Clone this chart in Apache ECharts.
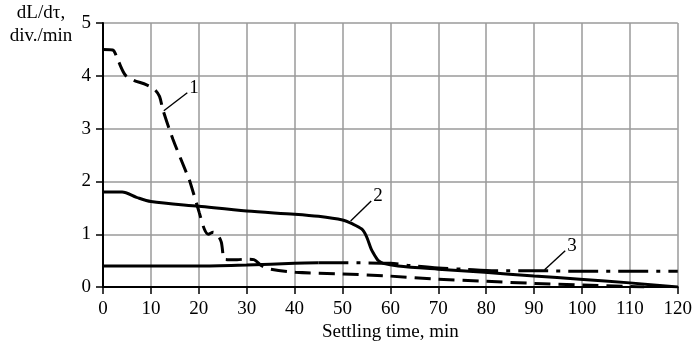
<!DOCTYPE html>
<html><head><meta charset="utf-8">
<script src="https://cdn.jsdelivr.net/npm/echarts@6/dist/echarts.min.js"></script>
<style>html,body{margin:0;padding:0;background:#fff}#c{width:695px;height:347px}</style>
</head><body><div id="c"></div>
<script>
// x tick labels
var xTicks = [0,10,20,30,40,50,60,70,80,90,100,110,120];
var yTicks = [0,1,2,3,4,5];
// Curve 1 (dashed)
var curve1X = [0,2,3.1,4.6,6.3,9.1,10.8,11.8,12.5,14.6,17.4,18,20.1,21.2,22,23,24,24.7,25.3,26,28,30,31.5,33.2,35,40.2,50,59.6,70,80,90,100,110,113];
var curve1Y = [4.5,4.49,4.3,4.02,3.92,3.83,3.74,3.61,3.36,2.8,2.17,2.04,1.41,1.09,1.0,1.04,0.98,0.85,0.53,0.52,0.52,0.53,0.52,0.4,0.34,0.28,0.25,0.21,0.15,0.11,0.07,0.04,0.01,0];
// Curve 2 (solid)
var curve2X = [0,4,7,10,20,30,40,45,50,52,54,55,56,57,57.5,58.5,61.6,70,79.7,90,99.6,110,120];
var curve2Y = [1.8,1.8,1.7,1.62,1.53,1.44,1.38,1.34,1.27,1.2,1.1,0.96,0.72,0.56,0.5,0.45,0.4,0.34,0.28,0.21,0.15,0.08,0];
// Curve 3 (dash-dot)
var curve3X = [0,10,20,30,40,45,50,60,64,70,75,82,90,100,110,120];
var curve3Y = [0.4,0.4,0.4,0.42,0.45,0.46,0.46,0.45,0.41,0.36,0.34,0.31,0.31,0.3,0.3,0.3];
// Leader lines for curve numbers
var leaderLabels = ['1','2','3'];
var leaderX = [[12.7,17.6],[51.7,56.0],[92.2,96.5]];
var leaderY = [[3.34,3.68],[1.25,1.63],[0.33,0.69]];

function pts(xs, ys){ return xs.map(function(x,i){return [x, ys[i]];}); }
var c3 = pts(curve3X, curve3Y);
var c3solid = c3.filter(function(p){return p[0] <= 45;});
var c3dash = c3.filter(function(p){return p[0] >= 45;});

var font = 'Liberation Serif';
var fs = 19;
var series = [
  {type:'line', data: pts(curve1X, curve1Y), symbol:'none', smooth:0.3,
   lineStyle:{color:'#000', width:3, type:[16,8]}},
  {type:'line', data: pts(curve2X, curve2Y), symbol:'none', smooth:0.3,
   lineStyle:{color:'#000', width:3}},
  {type:'line', data: c3solid, symbol:'none', smooth:0.3,
   lineStyle:{color:'#000', width:3}},
  {type:'line', data: c3dash, symbol:'none', smooth:0.3,
   lineStyle:{color:'#000', width:3, type:[30,8,4,8]}}
];
leaderLabels.forEach(function(lb, i){
  series.push({type:'line', symbol:'none', silent:true,
    data: pts(leaderX[i], leaderY[i]),
    lineStyle:{color:'#000', width:1.4},
    endLabel:{show:true, formatter: lb, fontFamily: font, fontSize:fs, color:'#000', distance:2, offset:[0,-5]}
  });
});

var chart = echarts.init(document.getElementById('c'));
chart.setOption({
  animation:false,
  backgroundColor:'#fff',
  grid:{left:103, right:13, top:23, bottom:59, containLabel:false},
  xAxis:{type:'value', min:0, max:120, interval:10,
    name:'Settling time, min', nameLocation:'middle', nameGap:32,
    nameTextStyle:{fontFamily:font, fontSize:fs, color:'#000'},
    axisLine:{show:true, onZero:false, lineStyle:{color:'#000', width:2}},
    axisTick:{show:true, length:7, lineStyle:{color:'#000', width:1.5}},
    axisLabel:{fontFamily:font, fontSize:fs, color:'#000', margin:12,
      formatter:function(v){return xTicks.indexOf(v)>=0 ? String(v) : '';}},
    splitLine:{show:true, lineStyle:{color:'#9a9a9a', width:1.5}}
  },
  yAxis:{type:'value', min:0, max:5, interval:1,
    axisLine:{show:true, onZero:false, lineStyle:{color:'#000', width:2}},
    axisTick:{show:true, length:7, lineStyle:{color:'#000', width:1.5}},
    axisLabel:{fontFamily:font, fontSize:fs, color:'#000', margin:12,
      formatter:function(v){return yTicks.indexOf(v)>=0 ? String(v) : '';}},
    splitLine:{show:true, lineStyle:{color:'#9a9a9a', width:1.5}}
  },
  graphic:[
    {type:'text', x:41, y:2, style:{text:'dL/dτ,\ndiv./min', fontFamily:font, fontSize:fs, fill:'#000', align:'center', lineHeight:23}}
  ],
  series: series
});
</script></body></html>
